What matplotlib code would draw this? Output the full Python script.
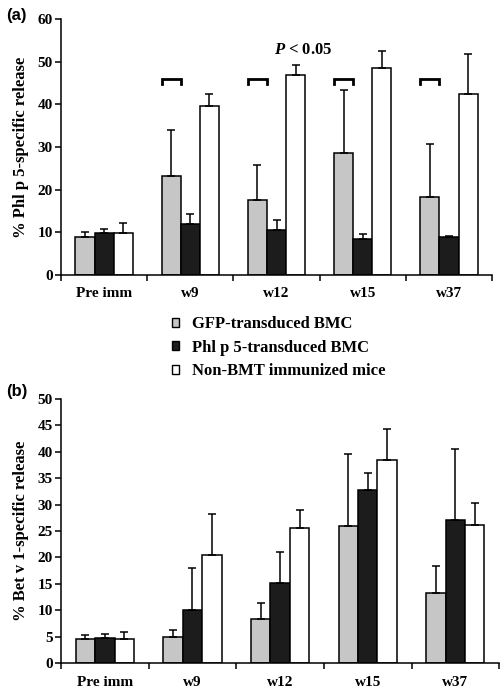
import numpy as np
import matplotlib

matplotlib.use("Agg")
import matplotlib.pyplot as plt
from matplotlib.patches import Patch

plt.rcParams["font.family"] = ["Liberation Serif", "DejaVu Serif"]
plt.rcParams["font.weight"] = "bold"
plt.rcParams["axes.labelweight"] = "bold"
plt.rcParams["mathtext.fontset"] = "custom"
plt.rcParams["mathtext.it"] = "Liberation Serif:italic:bold"
plt.rcParams["mathtext.rm"] = "Liberation Serif:bold"

categories = ["Pre imm", "w9", "w12", "w15", "w37"]
series_names = ["GFP-transduced BMC", "Phl p 5-transduced BMC", "Non-BMT immunized mice"]
colors = ["#c6c6c6", "#1c1c1c", "#ffffff"]

# panel (a): Phl p 5-specific release (mean, top of error bar)
phl_gfp = [9.0, 23.2, 17.5, 28.7, 18.3]
phl_gfp_top = [10.0, 34.0, 25.8, 43.4, 30.7]
phl_phl = [9.8, 12.0, 10.5, 8.5, 8.9]
phl_phl_top = [10.8, 14.3, 12.8, 9.6, 9.2]
phl_non = [9.75, 39.5, 46.8, 48.4, 42.4]
phl_non_top = [12.1, 42.4, 49.1, 52.5, 51.7]

# panel (b): Bet v 1-specific release
bet_gfp = [4.6, 5.0, 8.4, 25.9, 13.3]
bet_gfp_top = [5.3, 6.2, 11.4, 39.5, 18.3]
bet_phl = [4.8, 10.1, 15.1, 32.7, 27.0]
bet_phl_top = [5.5, 18.0, 21.1, 35.9, 40.5]
bet_non = [4.5, 20.4, 25.6, 38.5, 26.2]
bet_non_top = [5.9, 28.3, 28.9, 44.3, 30.3]

# significance brackets over GFP bars (panel a)
bracket_groups = [1, 2, 3, 4]
bracket_y = 45.9


def draw_panel(ax, values, tops, ymax, ystep, ylabel):
    x = np.arange(len(categories))
    w = 0.222
    for k, (vals, top) in enumerate(zip(values, tops)):
        xs = x + (k - 1) * w
        vals = np.array(vals)
        up = np.array(top) - vals
        ax.bar(xs, vals, width=w, color=colors[k], edgecolor="black",
               linewidth=1.1, zorder=2)
        ax.errorbar(xs, vals, yerr=[np.zeros_like(up), up], fmt="none",
                    ecolor="black", elinewidth=1.1, capsize=2.6,
                    capthick=1.1, zorder=3)
    ax.set_xlim(-0.5, len(categories) - 0.5)
    ax.set_ylim(0, ymax)
    ax.set_yticks(np.arange(0, ymax + 1, ystep))
    ax.set_xticks(np.arange(-0.5, len(categories), 1.0))
    ax.set_xticklabels([])
    ax.set_xticks(x, minor=True)
    ax.set_xticklabels(categories, minor=True)
    ax.tick_params(axis="x", which="minor", length=0, pad=9, labelsize=11)
    ax.tick_params(axis="x", which="major", length=4, width=1.1, direction="out")
    ax.tick_params(axis="y", length=4, width=1.1, direction="out", labelsize=11, pad=2)
    for s in ["top", "right"]:
        ax.spines[s].set_visible(False)
    for s in ["left", "bottom"]:
        ax.spines[s].set_linewidth(1.1)
    ax.set_ylabel(ylabel, fontsize=12, labelpad=6)


fig = plt.figure(figsize=(5.03, 6.89), dpi=100)
ax1 = fig.add_axes([0.1213, 0.6009, 0.857, 0.3716])
ax2 = fig.add_axes([0.1213, 0.0377, 0.871, 0.3832])

draw_panel(ax1, [phl_gfp, phl_phl, phl_non], [phl_gfp_top, phl_phl_top, phl_non_top],
           60, 10, "% Phl p 5-specific release")
draw_panel(ax2, [bet_gfp, bet_phl, bet_non], [bet_gfp_top, bet_phl_top, bet_non_top],
           50, 5, "% Bet v 1-specific release")

w = 0.222
for g in bracket_groups:
    x0, x1 = g - 1.5 * w, g - 0.5 * w
    ax1.plot([x0, x0, x1, x1], [bracket_y - 1.1, bracket_y, bracket_y, bracket_y - 1.1],
             color="black", lw=2.0, solid_joinstyle="miter", zorder=4)
ax1.text(2.31, 52.7, r"$P$ < 0.05", ha="center", va="center", fontsize=12)

fig.text(0.012, 0.978, "(a)", family="Liberation Sans", fontweight="bold",
         fontsize=12, va="center")
fig.text(0.012, 0.432, "(b)", family="Liberation Sans", fontweight="bold",
         fontsize=12, va="center")

handles = [Patch(facecolor=c, edgecolor="black", linewidth=1.0) for c in colors]
fig.legend(handles, series_names, loc="center left",
           bbox_to_anchor=(0.312, 0.4955), frameon=False, fontsize=12,
           handlelength=0.45, handleheight=0.45, handletextpad=0.75,
           labelspacing=0.45)

fig.savefig("out.png", dpi=100)
